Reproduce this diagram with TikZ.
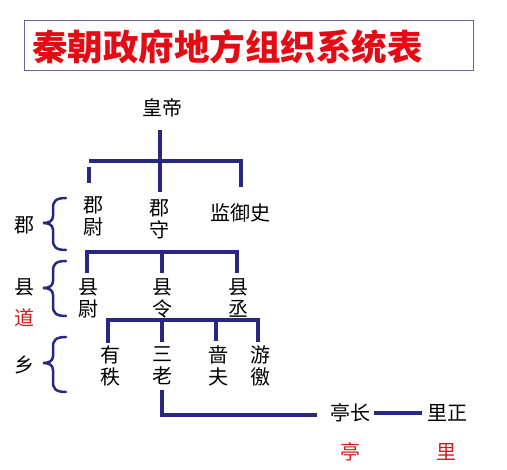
\documentclass[tikz,border=0pt]{standalone}
\usepackage{fontspec}
\newfontfamily\cjk{Noto Sans CJK SC}
\definecolor{navy}{RGB}{40,40,130}
\definecolor{titlered}{RGB}{230,10,20}
\definecolor{darkred}{RGB}{205,30,30}
\definecolor{boxline}{RGB}{100,100,160}
\newcommand\qinbrace[3]{%
  \draw[brc] (66,#1) .. controls (56,#1) and (53,#1+3) .. (53,#1+10)
    -- (53,#2-7) .. controls (53,#2-2) and (49,#2) .. (43,#2)
    .. controls (49,#2) and (53,#2+2) .. (53,#2+7)
    -- (53,#3-10) .. controls (53,#3-3) and (56,#3) .. (66,#3);}
\begin{document}
\begin{tikzpicture}[x=1pt,y=-1pt,
  txt/.style={font=\cjk\fontsize{20}{22}\selectfont, inner sep=0pt, align=center, text=black},
  redtxt/.style={txt, text=darkred},
  conn/.style={draw=navy, line width=3.1pt},
  brc/.style={draw=navy, line width=2.5pt, line cap=round}]
\useasboundingbox (0,0) rectangle (507,470);
\fill[white] (0,0) rectangle (507,470);
% title
\node[draw=boxline, line width=1pt, minimum width=449pt, minimum height=50pt, inner sep=0pt] (tbox) at (248.5,46) {};
\node[font=\cjk\bfseries\fontsize{35.5}{38}\selectfont, text=titlered, inner sep=0pt, anchor=west] (title) at (32,47) {秦朝政府地方组织系统表};
% nodes
\node[txt] (hd) at (162,108) {皇帝};
\node[txt] (jw) at (93,216) {郡\\尉};
\node[txt] (js) at (159,219) {郡\\守};
\node[txt] (jy) at (240,213) {监御史};
\node[txt] (xw) at (88,298) {县\\尉};
\node[txt] (xl) at (162,298) {县\\令};
\node[txt] (xc) at (238,298) {县\\丞};
\node[txt] (yz) at (110,366) {有\\秩};
\node[txt] (sl) at (162,366) {三\\老};
\node[txt] (sf) at (218,366) {啬\\夫};
\node[txt] (yj) at (260,366) {游\\徼};
\node[txt] (tz) at (350,413) {亭长};
\node[txt] (lz) at (447,413) {里正};
% level labels
\node[txt] (ljun) at (25,225) {郡};
\node[txt] (lxian) at (25,287) {县};
\node[redtxt] (ldao) at (25,318) {道};
\node[txt] (lxiang) at (25,365) {乡};
\node[redtxt] (lting) at (350,452) {亭};
\node[redtxt] (lli) at (446,452) {里};
% braces
\qinbrace{198}{223}{250}
\qinbrace{261}{288}{316}
\qinbrace{337}{363}{392}
% connectors level 1
\coordinate (a0) at (160,130);
\coordinate (a1) at (160,192);
\coordinate (aL) at (89,161);
\coordinate (aR) at (241,161);
\coordinate (aRd) at (241,187);
\coordinate (aLs) at (89,167);
\coordinate (aLe) at (89,183);
\draw[conn] (a0) -- (a1);
\draw[conn] (aL) -- (aR) -- (aRd);
\draw[conn] (aLs) -- (aLe);
% level 2
\coordinate (bL) at (87,252);
\coordinate (bLd) at (87,273);
\coordinate (bM) at (162,252);
\coordinate (bMd) at (162,273);
\coordinate (bR) at (237,252);
\coordinate (bRd) at (237,273);
\draw[conn] (bLd) -- (bL) -- (bR) -- (bRd);
\draw[conn] (bM) -- (bMd);
% level 3
\coordinate (c1) at (108,320);
\coordinate (c1d) at (108,343);
\coordinate (c2) at (162,320);
\coordinate (c2d) at (162,342);
\coordinate (c3) at (216,320);
\coordinate (c3d) at (216,341);
\coordinate (c4) at (258,320);
\coordinate (c4d) at (258,342);
\draw[conn] (c1d) -- (c1) -- (c4) -- (c4d);
\draw[conn] (c2) -- (c2d);
\draw[conn] (c3) -- (c3d);
% level 4
\coordinate (d0) at (162,390);
\coordinate (d1) at (162,415);
\coordinate (d2) at (317,415);
\draw[conn] (d0) -- (d1) -- (d2);
\draw[conn] (tz.east) ++(4,0) coordinate (e0) -- ([xshift=-5pt]lz.west);
\end{tikzpicture}
\end{document}
